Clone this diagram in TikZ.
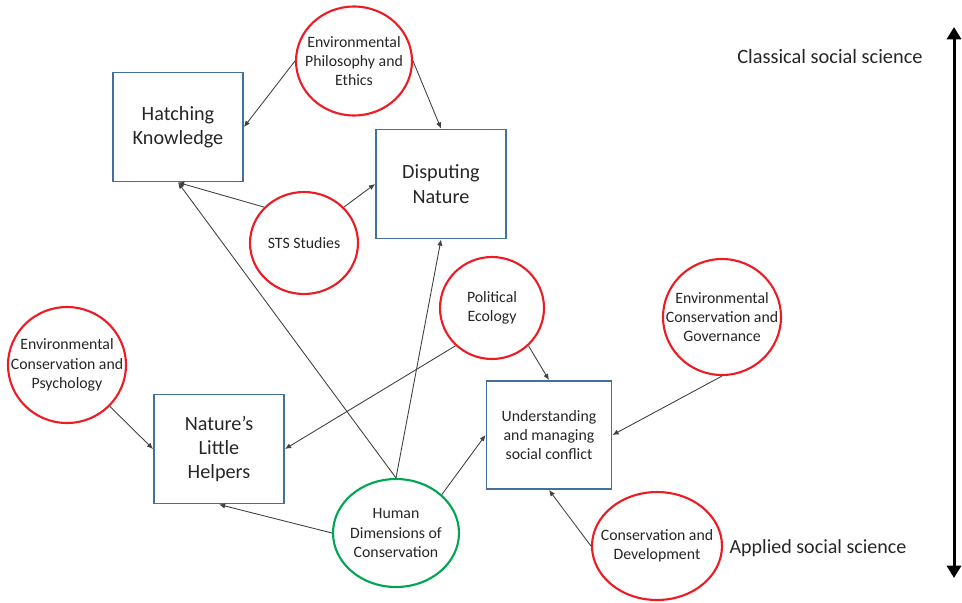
\documentclass[tikz,border=0pt]{standalone}
\usepackage{fontspec}
\setmainfont{Carlito}
\usetikzlibrary{shapes.geometric,arrows.meta}
\definecolor{boxblue}{RGB}{65,113,156}
\definecolor{ringred}{RGB}{237,28,36}
\definecolor{ringgreen}{RGB}{0,166,81}

\begin{document}
\begin{tikzpicture}
  [x=0.02cm,y=-0.02cm,
   topic/.style={draw=boxblue,line width=1.1pt,minimum width=2.6cm,
     minimum height=2.18cm,align=center,text=black!85,
     font=\fontsize{11.5}{13.8}\selectfont},
   field/.style={ellipse,draw=ringred,line width=1.2pt,inner xsep=-10pt,
     inner ysep=0pt,align=center,text=black!85,
     font=\fontsize{9}{11}\selectfont},
   link/.style={-{Latex[length=3.5pt,width=3pt]},black!75,line width=0.5pt}]

\useasboundingbox (0,0) rectangle (962,602);

\path
    (178,127) node [topic] (hatch) {Hatching\\ Knowledge}
    (441,184) node [topic] (disp) {Disputing\\ Nature}
    (219,449) node [topic] (helpers) {Nature's\\ Little\\ Helpers}
    (549,435) node [topic,minimum width=2.5cm,minimum height=2.16cm,
      font=\fontsize{9}{11}\selectfont] (conflict)
      {Understanding\\ and managing\\ social conflict};

\path
    (354,61) node [field,minimum width=2.32cm,minimum height=2.18cm] (phil)
      {Environmental\\ Philosophy and\\ Ethics}
    (304,243) node [field,minimum width=2.16cm,minimum height=2.04cm] (sts)
      {STS Studies}
    (492,308) node [field,minimum width=2.08cm,minimum height=2.04cm] (polec)
      {Political\\ Ecology}
    (722,317) node [field,minimum width=2.36cm,minimum height=2.32cm] (gov)
      {Environmental\\ Conservation and\\ Governance}
    (67,365) node [field,minimum width=2.36cm,minimum height=2.32cm] (psych)
      {Environmental\\ Conservation and\\ Psychology}
    (657,546) node [field,minimum width=2.6cm,minimum height=2.16cm] (devel)
      {Conservation and\\ Development}
    (396,533) node [field,draw=ringgreen,minimum width=2.52cm,
      minimum height=2.16cm] (human)
      {Human\\ Dimensions of\\ Conservation};

\draw [link] (phil.west) -- (hatch.east);
\draw [link] (phil.east) -- (disp.north);
\draw [link] (sts.138) -- (hatch.south);
\draw [link] (sts.42) -- (disp.west);
\draw [link] (human.north) -- (hatch.south);
\draw [link] (human.north) -- (disp.south);
\draw [link] (polec.226) -- (helpers.east);
\draw [link] (polec.314) -- (conflict.north);
\draw [link] (gov.south) -- (conflict.east);
\draw [link] (psych.316) -- (helpers.west);
\draw [link] (human.west) -- (helpers.south);
\draw [link] (human.40) -- (conflict.west);
\draw [link] (devel.west) -- (conflict.south);

\path
    (954,27) coordinate (classic)
    (954,578) coordinate (applied)
    (830,56) node [text=black!85,font=\fontsize{11.6}{14}\selectfont]
      (classlabel) {Classical social science}
    (818,548) node [text=black!85,font=\fontsize{11.4}{14}\selectfont]
      (applabel) {Applied social science};
\draw [{Triangle[length=7pt,width=8pt]}-{Triangle[length=7pt,width=8pt]},
    line width=1.7pt] (classic) -- (applied);
\end{tikzpicture}
\end{document}
